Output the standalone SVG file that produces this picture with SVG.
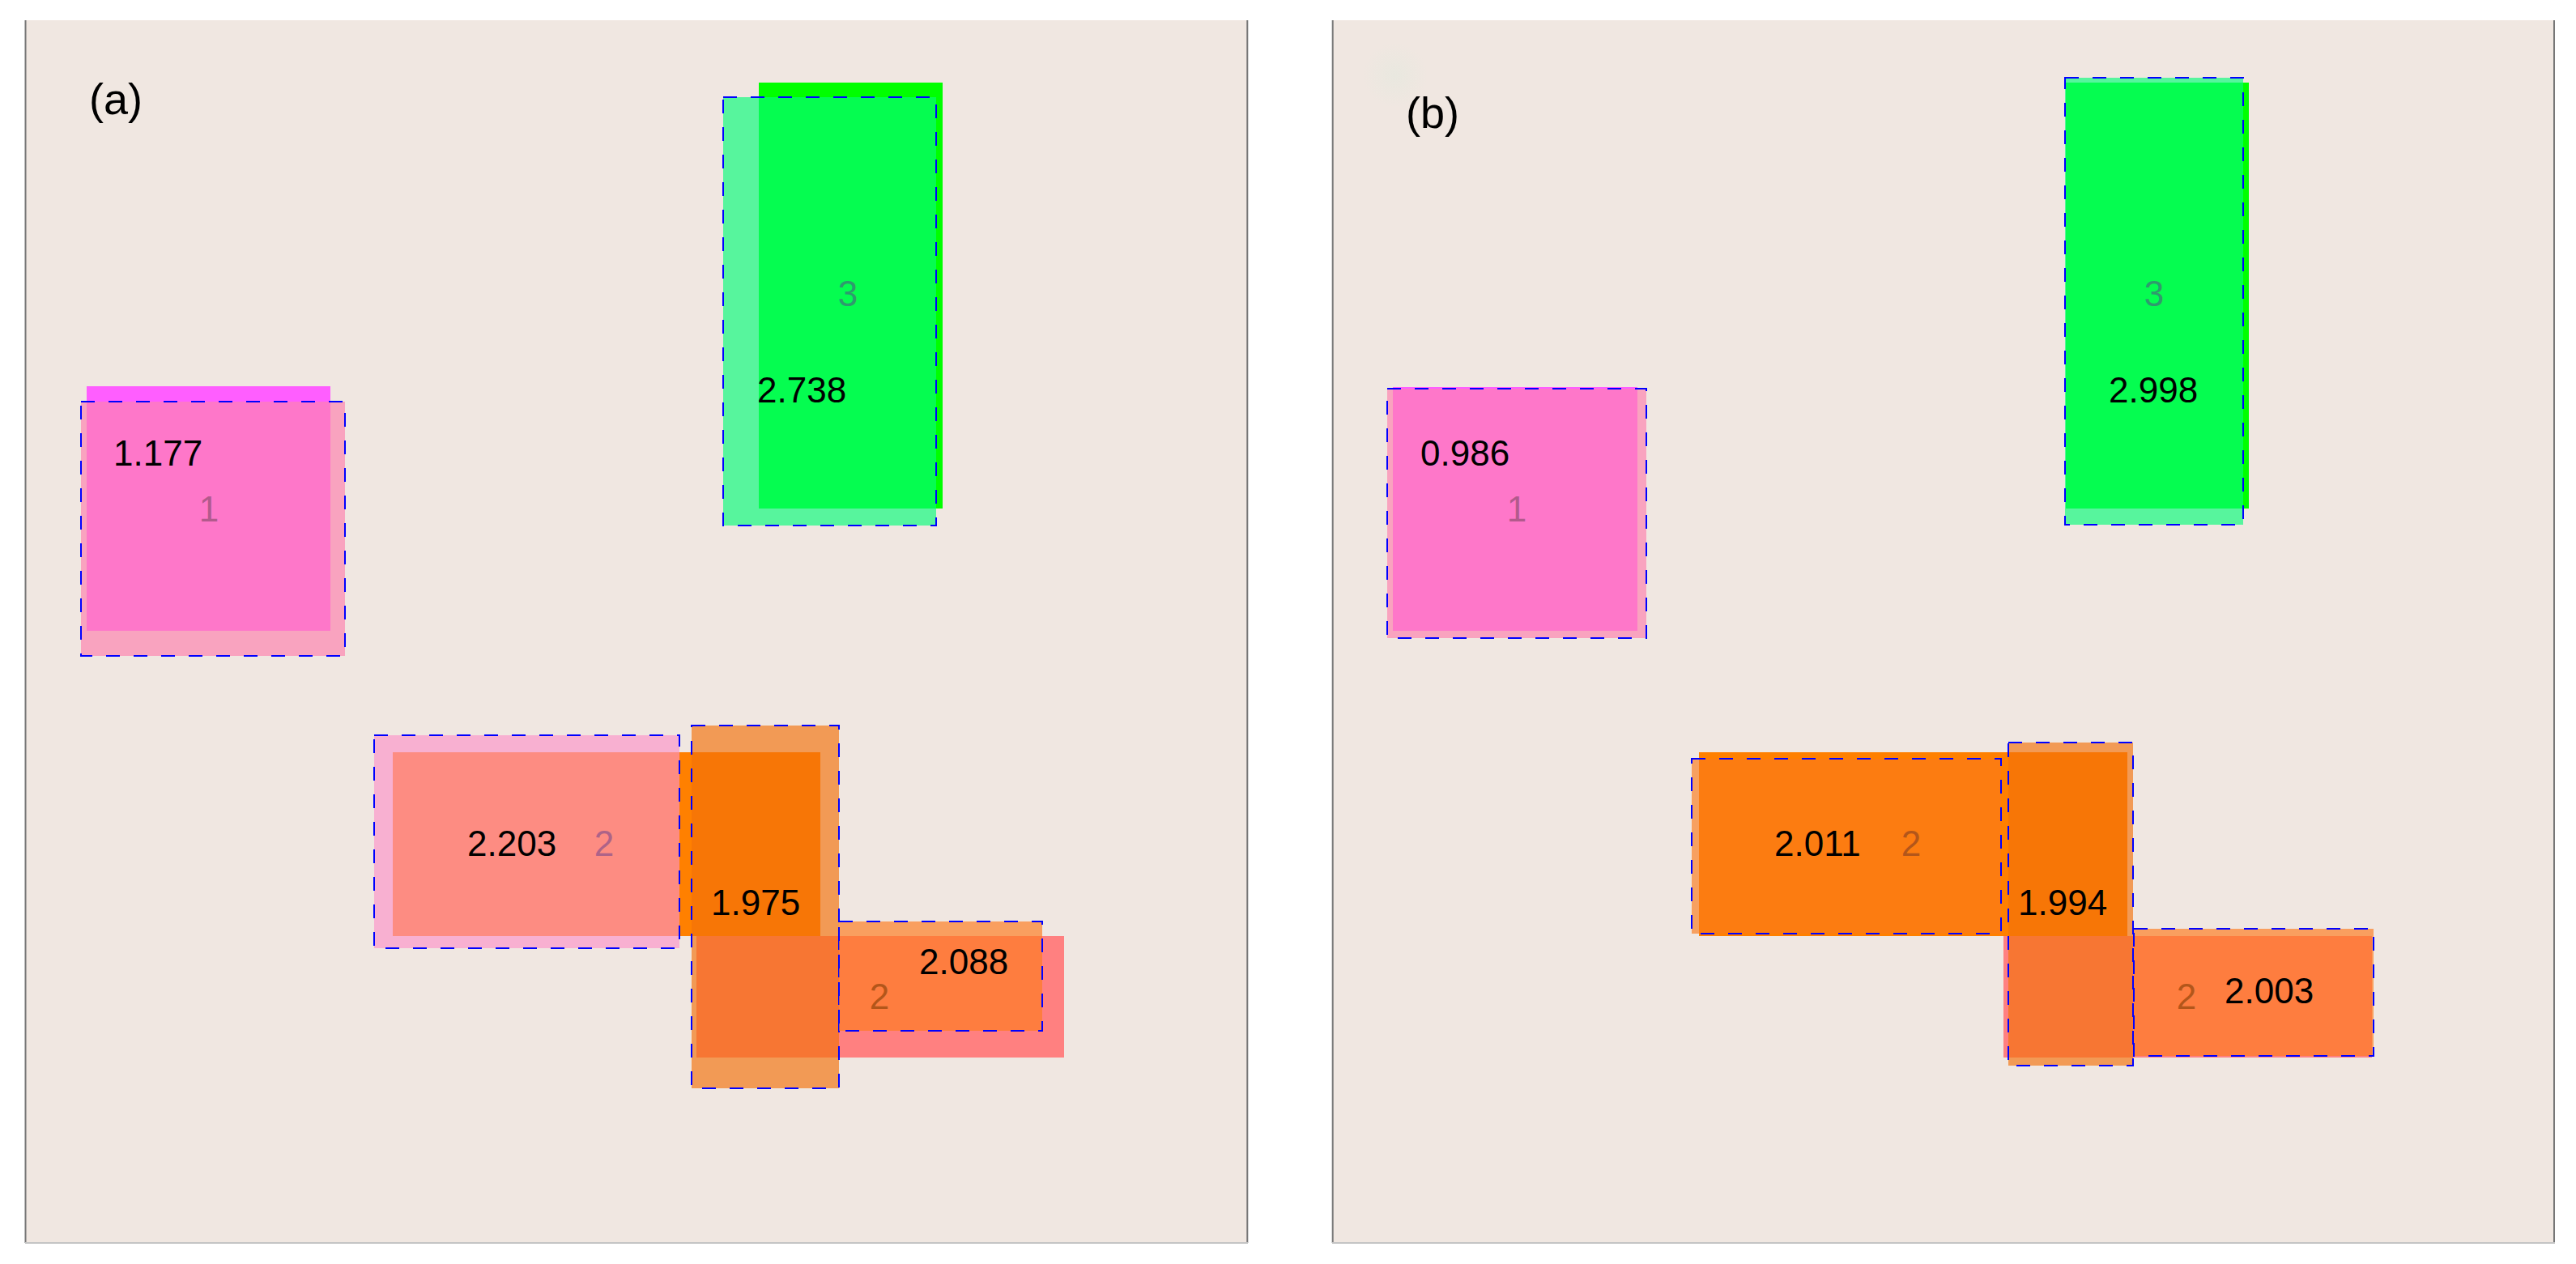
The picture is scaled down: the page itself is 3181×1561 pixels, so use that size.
<svg xmlns="http://www.w3.org/2000/svg" width="3181" height="1561" viewBox="0 0 3181 1561">
<defs>
<radialGradient id="glow">
<stop offset="0" stop-color="#e8e8df" stop-opacity="0.9"/>
<stop offset="1" stop-color="#e8e8df" stop-opacity="0"/>
</radialGradient>
</defs>
<style>
.panel{fill:#f0e7e1}
.side{stroke:#777;stroke-width:2}
.bottom{stroke:#c4c4c4;stroke-width:2}
.ref{stroke:#0000ff;stroke-width:2;stroke-dasharray:17 17}
.mag{fill:#ff5eff}
.grn{fill:#00ff00}
.org{fill:#ff8000}
.red{fill:#ff8080}
.ref1{fill:#fd83b0;fill-opacity:0.68}
.ref3{fill:#08fc7a;fill-opacity:0.66}
.refA{fill:#fc92c7;fill-opacity:0.65}
.refAb{fill:#fb7a1a;fill-opacity:0.65}
.refB{fill:#f37009;fill-opacity:0.65}
.refC{fill:#fd7c20;fill-opacity:0.67}
text{font-family:"Liberation Sans",Arial,sans-serif;font-size:44px}
.val{fill:#000}
.title{font-size:54px;fill:#000}
.l1{fill:#b25a8c;text-anchor:middle}
.l3{fill:#2f9a6e;text-anchor:middle}
.l2p{fill:#ad6388;text-anchor:middle}
.l2o{fill:#b3561a;text-anchor:middle}
</style>

<g id="panel-a">
<rect class="panel" x="31" y="25" width="1509" height="1509"/>
<line class="side" x1="31.5" y1="25" x2="31.5" y2="1535"/>
<line class="side" x1="1540.3" y1="25" x2="1540.3" y2="1535"/>
<line class="bottom" x1="31" y1="1535" x2="1541" y2="1535"/>
<text class="title" x="110" y="141">(a)</text>
<g id="a-solutions">
<rect class="mag" x="107" y="477" width="301" height="302"/>
<rect class="grn" x="937" y="102" width="227" height="526"/>
<rect class="org" x="485" y="929" width="528" height="227"/>
<rect class="red" x="860" y="1156" width="454" height="150"/>
</g>
<g id="a-node1">
<rect class="ref ref1" x="100" y="496" width="326" height="314"/>
<text class="val" x="140" y="575">1.177</text>
<text class="l1" x="258" y="644">1</text>
</g>
<g id="a-node3">
<rect class="ref ref3" x="893" y="120" width="263" height="529"/>
<text class="val" x="935" y="497">2.738</text>
<text class="l3" x="1047" y="378">3</text>
</g>
<g id="a-node2-left">
<rect class="ref refA" x="462" y="908" width="377" height="263"/>
<text class="val" x="577" y="1057">2.203</text>
<text class="l2p" x="746" y="1057">2</text>
</g>
<g id="a-node2-mid">
<rect class="ref refB" x="854" y="896" width="182" height="448"/>
<text class="val" x="878" y="1130">1.975</text>
</g>
<g id="a-node2-right">
<rect class="ref refC" x="1036" y="1138" width="251" height="135"/>
<text class="val" x="1135" y="1203">2.088</text>
<text class="l2o" x="1086" y="1246">2</text>
</g>
</g>

<g id="panel-b">
<rect class="panel" x="1645" y="25" width="1509" height="1509"/>
<circle cx="1723" cy="93" r="40" fill="url(#glow)"/>
<line class="side" x1="1645.7" y1="25" x2="1645.7" y2="1535"/>
<line class="side" x1="3154" y1="25" x2="3154" y2="1535"/>
<line class="bottom" x1="1645" y1="1535" x2="3155" y2="1535"/>
<text class="title" x="1736" y="158">(b)</text>
<g id="b-solutions">
<rect class="mag" x="1720" y="478" width="302" height="301"/>
<rect class="grn" x="2551" y="102" width="226" height="526"/>
<rect class="org" x="2098" y="929" width="529" height="227"/>
<rect class="red" x="2474" y="1156" width="455" height="150"/>
</g>
<g id="b-node1">
<rect class="ref ref1" x="1713" y="480" width="320" height="308"/>
<text class="val" x="1754" y="575">0.986</text>
<text class="l1" x="1873" y="644">1</text>
</g>
<g id="b-node3">
<rect class="ref ref3" x="2550" y="96" width="220" height="552"/>
<text class="val" x="2604" y="497">2.998</text>
<text class="l3" x="2660" y="378">3</text>
</g>
<g id="b-node2-left">
<rect class="ref refAb" x="2089" y="937" width="382" height="216"/>
<text class="val" x="2191" y="1057">2.011</text>
<text class="l2o" x="2360" y="1057">2</text>
</g>
<g id="b-node2-mid">
<rect class="ref refB" x="2480" y="917" width="154" height="399"/>
<text class="val" x="2492" y="1130">1.994</text>
</g>
<g id="b-node2-right">
<rect class="ref refC" x="2635" y="1147" width="296" height="157"/>
<text class="val" x="2747" y="1239">2.003</text>
<text class="l2o" x="2700" y="1246">2</text>
</g>
</g>
</svg>
